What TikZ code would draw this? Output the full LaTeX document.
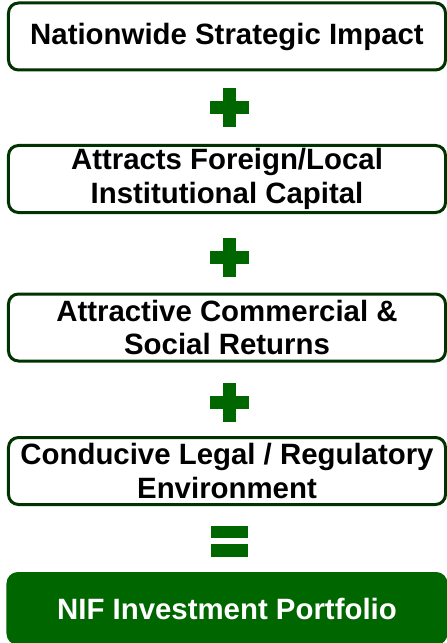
\documentclass[tikz,border=0pt]{standalone}
\usepackage{fontspec}
\setmainfont{Liberation Sans}
\usepackage{tikz}
\usetikzlibrary{shapes}
\pgfdeclarelayer{edgelayer}
\pgfdeclarelayer{nodelayer}
\pgfsetlayers{edgelayer,nodelayer,main}
\tikzstyle{none}=[inner sep=0pt]
\definecolor{darkgreen}{rgb}{0.0,0.2,0.0}
\definecolor{green}{rgb}{0.0,0.4,0.0}
\tikzstyle{factor}=[style=none, rectangle, rounded corners=10bp, draw=darkgreen, line width=3bp, fill=white, minimum width=437bp, minimum height=67bp, align=center, font=\bfseries\fontsize{29.5}{34}\selectfont]
\tikzstyle{result}=[factor, draw=green, fill=green, text=white, minimum width=438bp, minimum height=70bp]
\tikzstyle{bar}=[style=none, rectangle, draw=none, fill=green]

\begin{document}
\begin{tikzpicture}[x=1bp, y=-1bp]
	\useasboundingbox (0,0) rectangle (447,643);
	\begin{pgfonlayer}{nodelayer}
		\node [style=factor] (0) at (227, 36.5) {Nationwide Strategic Impact};
		\node [style=factor] (1) at (227, 179) {Attracts Foreign/Local\\Institutional Capital};
		\node [style=factor] (2) at (227, 327.5) {Attractive Commercial \&\\Social Returns};
		\node [style=factor] (3) at (227, 471) {Conducive Legal / Regulatory\\Environment};
		\node [style=result] (4) at (227, 608.5) {NIF Investment Portfolio};
		% plus signs
		\node [style=bar, minimum width=39bp, minimum height=13bp] (5) at (229.5, 108) {};
		\node [style=bar, minimum width=13bp, minimum height=39bp] (6) at (229.5, 108) {};
		\node [style=bar, minimum width=39bp, minimum height=13bp] (7) at (229.5, 257.5) {};
		\node [style=bar, minimum width=13bp, minimum height=39bp] (8) at (229.5, 257.5) {};
		\node [style=bar, minimum width=39bp, minimum height=13bp] (9) at (229.5, 402.5) {};
		\node [style=bar, minimum width=13bp, minimum height=39bp] (10) at (229.5, 402.5) {};
		% equals sign
		\node [style=bar, minimum width=37bp, minimum height=12.5bp] (11) at (229.5, 532) {};
		\node [style=bar, minimum width=37bp, minimum height=12.5bp] (12) at (229.5, 550.5) {};
	\end{pgfonlayer}
\end{tikzpicture}
\end{document}
